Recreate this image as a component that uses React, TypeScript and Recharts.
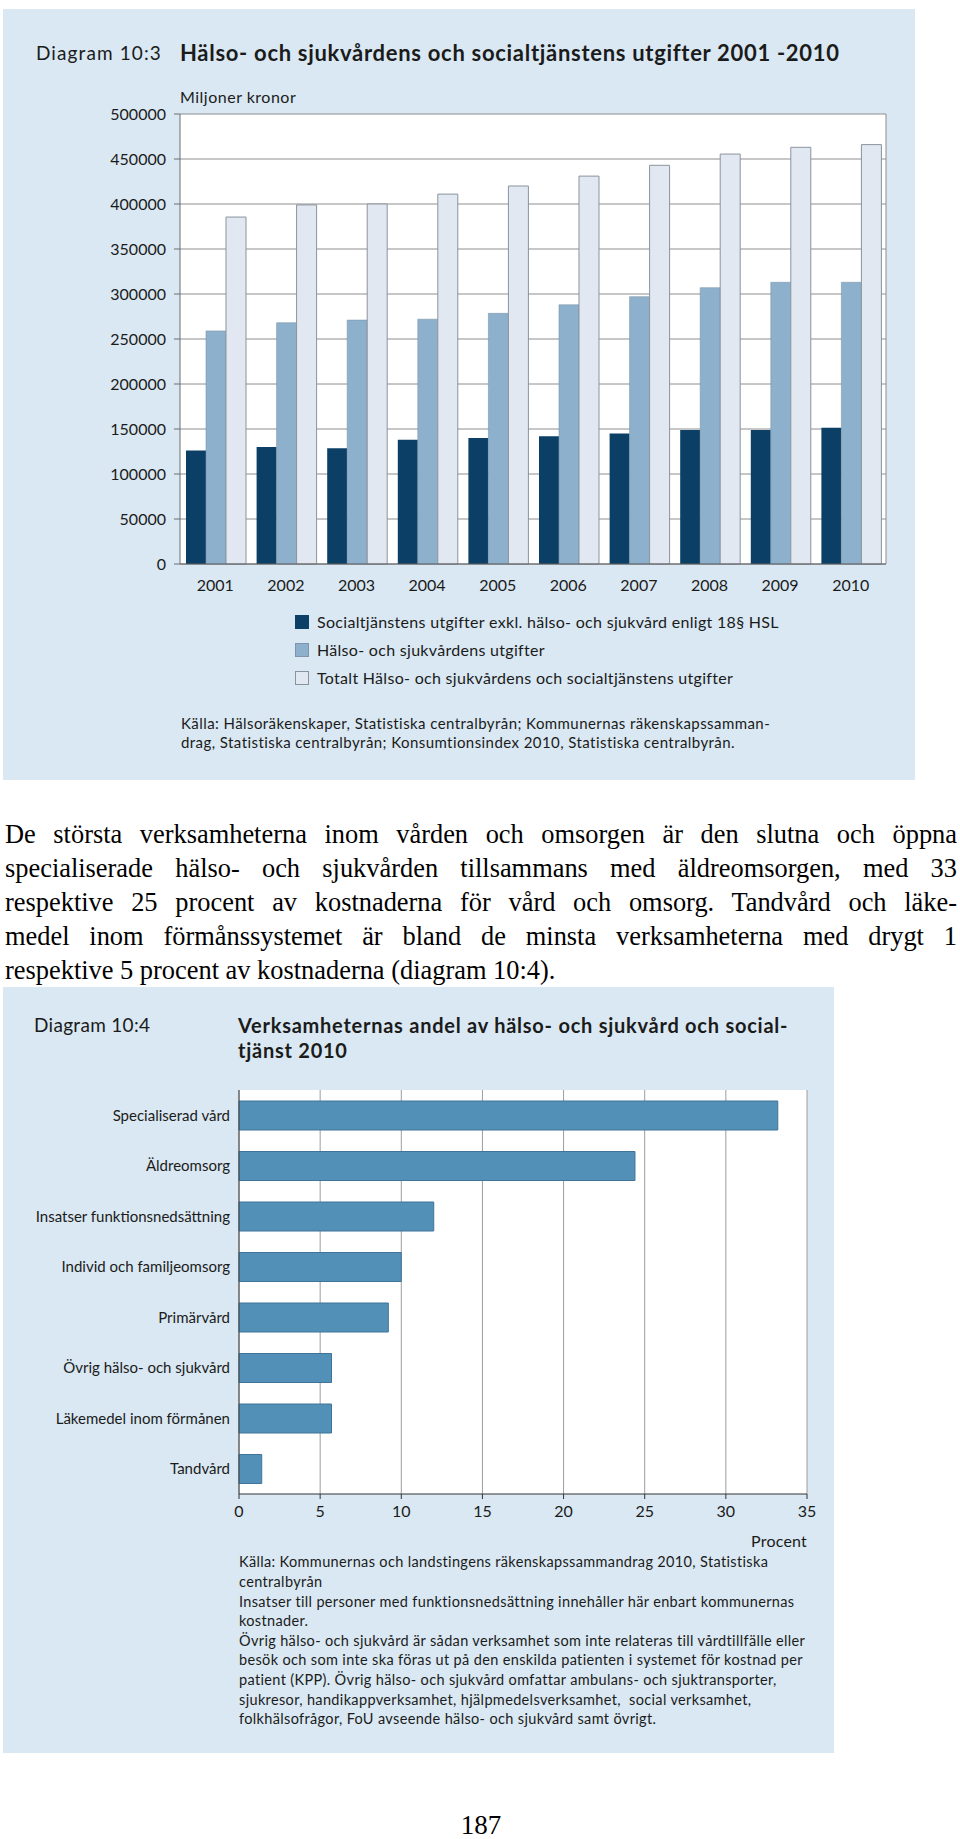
import { BarChart, Bar, XAxis, YAxis, CartesianGrid } from 'recharts';

// Diagram 10:3 – miljoner kronor
const years = ['2001', '2002', '2003', '2004', '2005', '2006', '2007', '2008', '2009', '2010'];
const socialtjanst = [126000, 130000, 128500, 138000, 140000, 142000, 145000, 149000, 149000, 151500];
const halsoSjukvard = [259000, 268000, 271000, 272000, 278500, 288000, 297000, 307000, 313000, 313000];
const totalt = [385500, 399000, 400000, 411000, 420000, 431000, 443000, 455500, 463000, 466000];
const kronorTicks = [0, 50000, 100000, 150000, 200000, 250000, 300000, 350000, 400000, 450000, 500000];

// Diagram 10:4 – procent
const verksamheter = [
  'Specialiserad vård',
  'Äldreomsorg',
  'Insatser funktionsnedsättning',
  'Individ och familjeomsorg',
  'Primärvård',
  'Övrig hälso- och sjukvård',
  'Läkemedel inom förmånen',
  'Tandvård',
];
const andel = [33.2, 24.4, 12.0, 10.0, 9.2, 5.7, 5.7, 1.4];
const procentTicks = [0, 5, 10, 15, 20, 25, 30, 35];

const legendItems = [
  { label: 'Socialtjänstens utgifter exkl. hälso- och sjukvård enligt 18§ HSL', color: '#0b3f66', border: '#0b3f66' },
  { label: 'Hälso- och sjukvårdens utgifter', color: '#8db0cc', border: '#7d95aa' },
  { label: 'Totalt Hälso- och sjukvårdens och socialtjänstens utgifter', color: '#e2e8f1', border: '#8a939d' },
];

const paragraph = [
  'De största verksamheterna inom vården och omsorgen är den slutna och öppna',
  'specialiserade hälso- och sjukvården tillsammans med äldreomsorgen, med 33',
  'respektive 25 procent av kostnaderna för vård och omsorg. Tandvård och läke-',
  'medel inom förmånssystemet är bland de minsta verksamheterna med drygt 1',
  'respektive 5 procent av kostnaderna (diagram 10:4).',
];

const notes = [
  'Källa: Kommunernas och landstingens räkenskapssammandrag 2010, Statistiska',
  'centralbyrån',
  'Insatser till personer med funktionsnedsättning innehåller här enbart kommunernas',
  'kostnader.',
  'Övrig hälso- och sjukvård är sådan verksamhet som inte relateras till vårdtillfälle eller',
  'besök och som inte ska föras ut på den enskilda patienten i systemet för kostnad per',
  'patient (KPP). Övrig hälso- och sjukvård omfattar ambulans- och sjuktransporter,',
  'sjukresor, handikappverksamhet, hjälpmedelsverksamhet,  social verksamhet,',
  'folkhälsofrågor, FoU avseende hälso- och sjukvård samt övrigt.',
];

const FONT = 'Lato, "Open Sans", sans-serif';
const PANEL = '#d9e8f2';
const INK = '#1b1b1b';

const expData = years.map((year, i) => ({
  year,
  social: socialtjanst[i],
  halso: halsoSjukvard[i],
  totalt: totalt[i],
}));

const shareData = verksamheter.map((name, i) => ({ name, value: andel[i] }));

function Text({ x, y, size, children, bold, width, align, spacing }: any) {
  return (
    <div
      style={{
        position: 'absolute',
        left: x,
        top: y - size * 0.6,
        width,
        fontFamily: FONT,
        fontSize: size,
        lineHeight: `${size * 1.2}px`,
        fontWeight: bold ? 700 : 400,
        color: INK,
        whiteSpace: 'pre',
        textAlign: align || 'left',
        letterSpacing: spacing ?? 0,
      }}
    >
      {children}
    </div>
  );
}

export default function App() {
  return (
    <div style={{ position: 'absolute', left: 0, top: 0, width: 960, height: 1839, background: '#fff' }}>
      {/* Diagram 10:3 */}
      <div style={{ position: 'absolute', left: 3, top: 9, width: 912, height: 771, background: PANEL }} />
      <Text x={36} y={53} size={19} spacing={1.1}>Diagram 10:3</Text>
      <Text x={180} y={53} size={22} bold spacing={0.7}>
        Hälso- och sjukvårdens och socialtjänstens utgifter 2001 -2010
      </Text>
      <Text x={180} y={97} size={16} spacing={0.5}>Miljoner kronor</Text>

      <div style={{ position: 'absolute', left: 0, top: 100 }}>
        <BarChart
          width={900}
          height={494}
          data={expData}
          margin={{ top: 14, right: 13, left: 0, bottom: 0 }}
          barCategoryGap="8.5%"
          barGap={0}
        >
          <CartesianGrid vertical={false} stroke="#8e8e8e" fill="#ffffff" />
          <XAxis
            dataKey="year"
            axisLine={{ stroke: '#5e5e5e' }}
            tickLine={false}
            tickSize={6}
            tickMargin={10}
            height={30}
            interval={0}
            tick={{ fill: INK, fontSize: 16, fontFamily: FONT }}
          />
          <YAxis
            domain={[0, 500000]}
            ticks={kronorTicks}
            interval={0}
            width={180}
            axisLine={{ stroke: '#6e6e6e' }}
            tickLine={{ stroke: '#6e6e6e' }}
            tickSize={6}
            tickMargin={8}
            tick={{ fill: INK, fontSize: 16, fontFamily: FONT }}
          />
          <YAxis
            yAxisId="right"
            orientation="right"
            domain={[0, 500000]}
            ticks={kronorTicks}
            width={1}
            tick={false}
            tickLine={false}
            axisLine={{ stroke: '#8e8e8e' }}
          />
          <Bar dataKey="social" fill="#0b3f66" isAnimationActive={false} />
          <Bar dataKey="halso" fill="#8db0cc" stroke="#7d95aa" strokeWidth={0.6} isAnimationActive={false} />
          <Bar dataKey="totalt" fill="#e2e8f1" stroke="#8a939d" strokeWidth={1} isAnimationActive={false} />
        </BarChart>
      </div>

      {legendItems.map((item, i) => (
        <div key={item.label}>
          <div
            style={{
              position: 'absolute',
              left: 295,
              top: 615 + i * 28,
              width: 12,
              height: 12,
              background: item.color,
              border: `1px solid ${item.border}`,
            }}
          />
          <Text x={317} y={622 + i * 28} size={16} spacing={0.3}>{item.label}</Text>
        </div>
      ))}

      <Text x={181} y={723} size={15} spacing={0.43}>
        Källa: Hälsoräkenskaper, Statistiska centralbyrån; Kommunernas räkenskapssamman-
      </Text>
      <Text x={181} y={742} size={15} spacing={0.43}>
        drag, Statistiska centralbyrån; Konsumtionsindex 2010, Statistiska centralbyrån.
      </Text>

      {/* Brödtext */}
      {paragraph.map((line, i) => (
        <div
          key={i}
          style={{
            position: 'absolute',
            left: 5,
            top: 817 + i * 34,
            width: i < paragraph.length - 1 ? 952 : undefined,
            fontFamily: '"Liberation Serif", "Times New Roman", serif',
            fontSize: 26.4,
            lineHeight: '34px',
            color: '#000',
            whiteSpace: 'nowrap',
            textAlign: i < paragraph.length - 1 ? 'justify' : 'left',
            textAlignLast: i < paragraph.length - 1 ? 'justify' : 'left',
          }}
        >
          {line}
        </div>
      ))}

      {/* Diagram 10:4 */}
      <div style={{ position: 'absolute', left: 3, top: 987, width: 831, height: 766, background: PANEL }} />
      <Text x={34} y={1025} size={19} spacing={0.3}>Diagram 10:4</Text>
      <Text x={238} y={1025} size={20} bold spacing={0.75}>
        Verksamheternas andel av hälso- och sjukvård och social-
      </Text>
      <Text x={238} y={1050} size={20} bold spacing={0.75}>tjänst 2010</Text>

      <div style={{ position: 'absolute', left: 0, top: 1080 }}>
        <BarChart
          layout="vertical"
          width={820}
          height={444}
          data={shareData}
          margin={{ top: 10, right: 13, left: 0, bottom: 0 }}
        >
          <CartesianGrid horizontal={false} stroke="#9c9c9c" fill="#ffffff" />
          <XAxis
            type="number"
            domain={[0, 35]}
            ticks={procentTicks}
            interval={0}
            height={30}
            axisLine={{ stroke: '#333' }}
            tickLine={{ stroke: '#333' }}
            tickSize={5}
            tickMargin={7}
            tick={{ fill: INK, fontSize: 16, fontFamily: FONT }}
          />
          <YAxis
            type="category"
            dataKey="name"
            width={239}
            interval={0}
            axisLine={{ stroke: '#444' }}
            tickLine={false}
            tickSize={6}
            tickMargin={3}
            tick={{ fill: INK, fontSize: 15, fontFamily: FONT }}
          />
          <Bar dataKey="value" fill="#5290b8" stroke="#3f7498" strokeWidth={1} barSize={29} isAnimationActive={false} />
        </BarChart>
      </div>

      <Text x={600} y={1541} size={16} width={207} align="right" spacing={0.2}>Procent</Text>
      {notes.map((line, i) => (
        <Text key={i} x={239} y={1562 + i * 19.6} size={14.5} spacing={0.35}>{line}</Text>
      ))}

      <div
        style={{
          position: 'absolute',
          left: 0,
          width: 962,
          top: 1808,
          textAlign: 'center',
          fontFamily: '"Liberation Serif", "Times New Roman", serif',
          fontSize: 27,
          lineHeight: '34px',
          color: '#000',
        }}
      >
        187
      </div>
    </div>
  );
}
